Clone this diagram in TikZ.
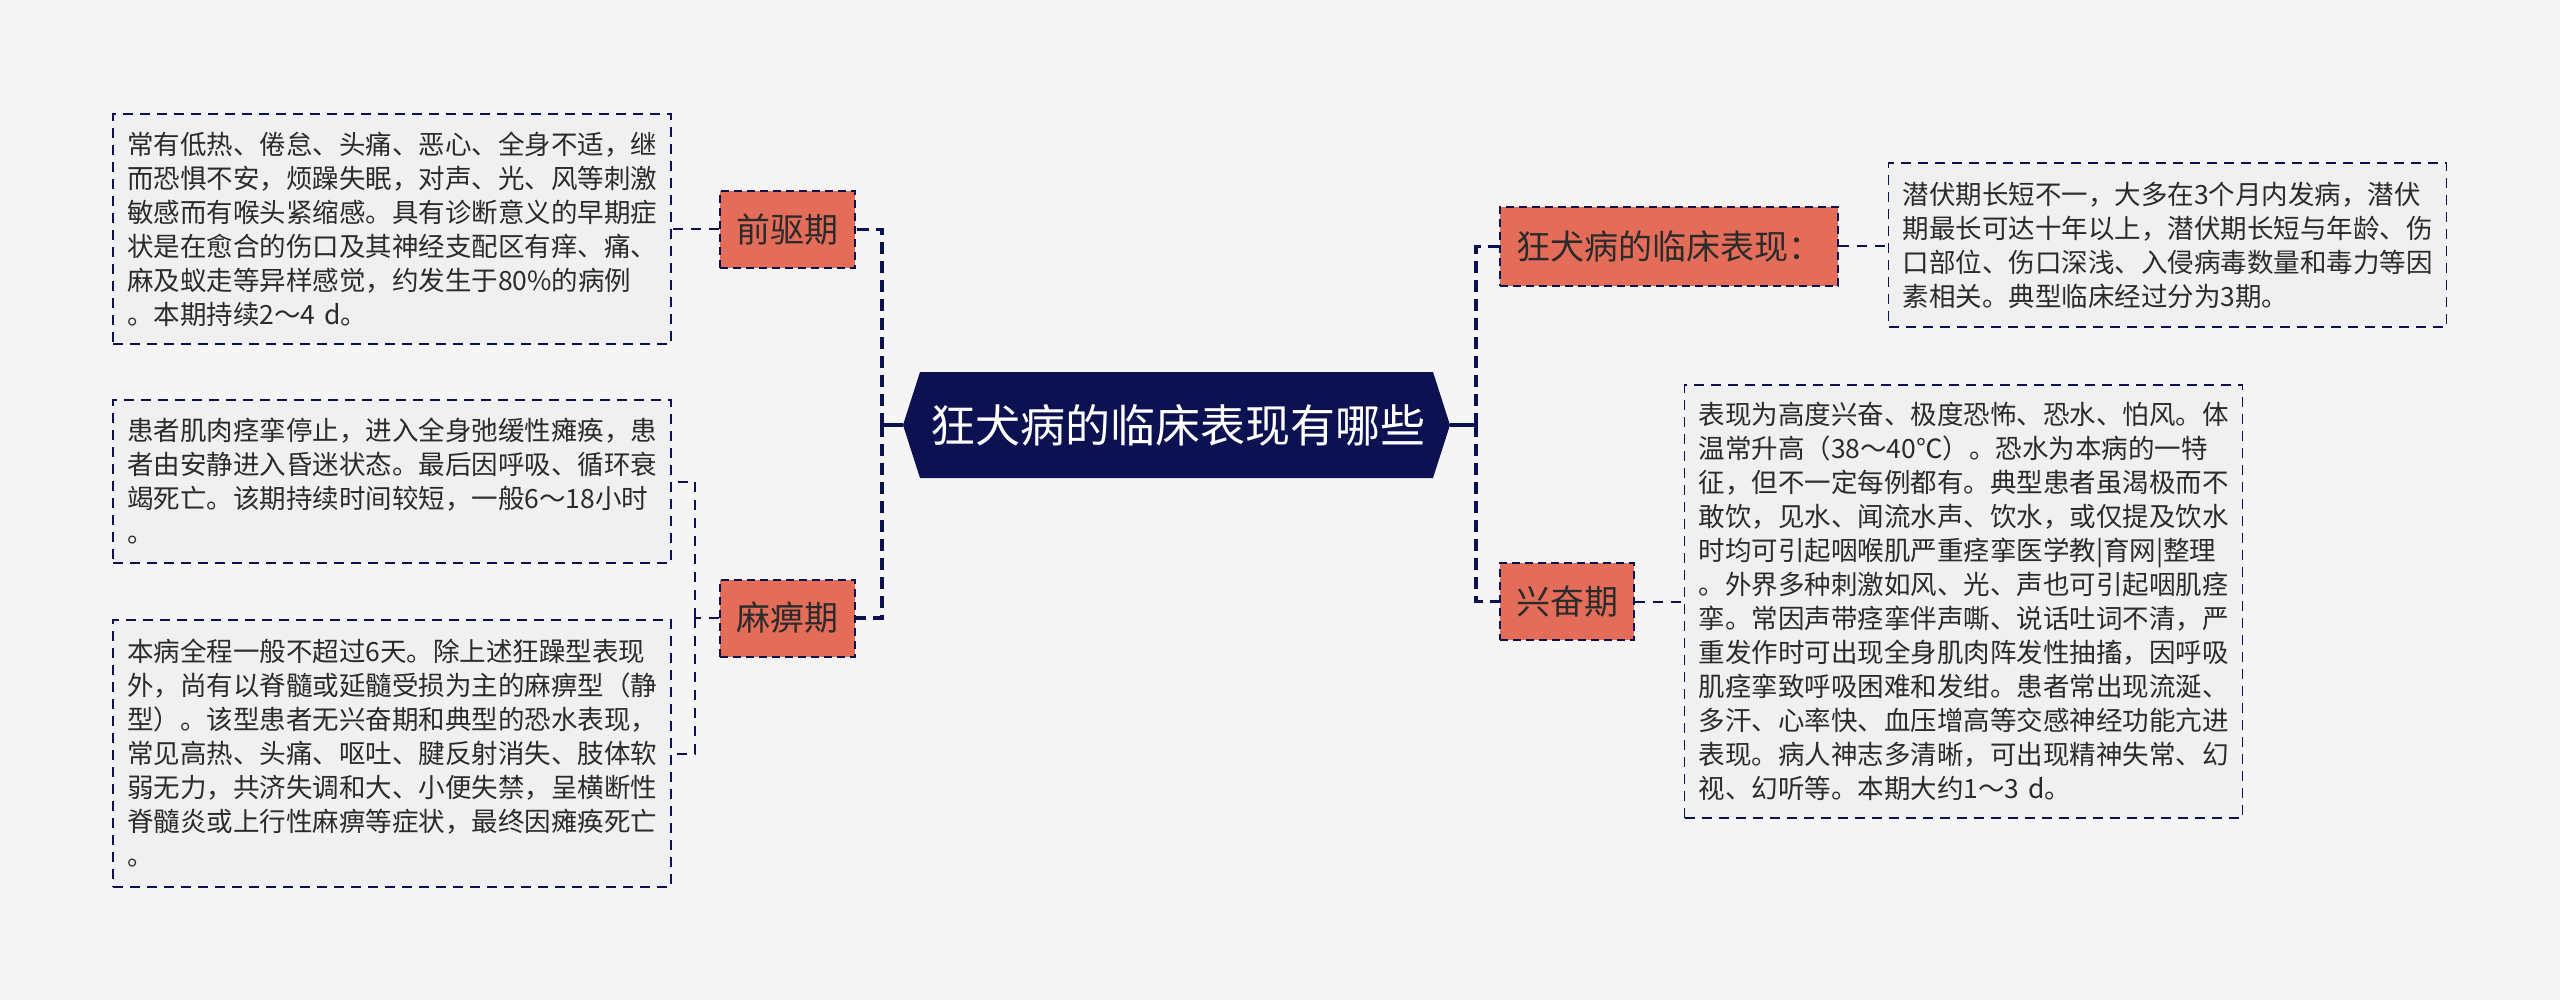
\documentclass[tikz,border=0pt]{standalone}
\usepackage{fontspec}
\setmainfont{Noto Sans CJK SC}
\definecolor{bg}{HTML}{F5F5F5}
\definecolor{navy}{HTML}{0C1152}
\definecolor{salmon}{HTML}{E46D5A}
\definecolor{boxfill}{HTML}{F0F0F0}
\definecolor{ink}{HTML}{2B2B2B}
\tikzset{
  branch/.style={draw=navy, dashed, dash pattern=on 4pt off 2.5pt, line width=1pt, fill=salmon, text=ink,
    font=\fontsize{17}{20}\selectfont, inner sep=0pt, minimum height=38.5pt},
  leafbox/.style={draw=navy, dash pattern=on 5pt off 3.5pt, line width=0.9pt, fill=boxfill, text=ink,
    text width=265pt, inner xsep=7pt, inner ysep=4pt, align=left, font=\fontsize{13.25}{17}\selectfont},
  spine/.style={draw=navy, line width=1.6pt},
  spinedash/.style={spine, dash pattern=on 6pt off 3.5pt},
  leafline/.style={draw=navy, line width=1pt, dash pattern=on 5pt off 4pt},
}
\begin{document}
\begin{tikzpicture}[x=0.5pt,y=-0.5pt]
\fill[bg] (0,0) rectangle (2560,1000);
% central hexagon
\coordinate (rootL) at (903,425);
\coordinate (rootR) at (1450,425);
\fill[navy] (rootL) -- (920,372) -- (1433,372) -- (rootR) -- (1433,478) -- (920,478) -- cycle;
\node[text=white, font=\fontsize{22.5}{26}\selectfont, inner sep=0pt] (root) at (1178,425) {狂犬病的临床表现有哪些};
% branch nodes
\node[branch, minimum width=67.5pt] (qian) at (787.5,229.5) {前驱期};
\node[branch, minimum width=67.5pt] (mabi) at (787.5,618) {麻痹期};
\node[branch, minimum width=169pt, minimum height=39.5pt] (biaoxian) at (1669,246.5) {狂犬病的临床表现：};
\node[branch, minimum width=67pt] (xingfen) at (1567,601.5) {兴奋期};
% leaf boxes
\node[leafbox, minimum height=115pt] (L1) at (392,229) {常有低热、倦怠、头痛、恶心、全身不适，继\\而恐惧不安，烦躁失眠，对声、光、风等刺激\\敏感而有喉头紧缩感。具有诊断意义的早期症\\状是在愈合的伤口及其神经支配区有痒、痛、\\麻及蚁走等异样感觉，约发生于80\%的病例\\。本期持续2～4 d。};
\node[leafbox, minimum height=81.5pt] (L2) at (392,481.5) {患者肌肉痉挛停止，进入全身弛缓性瘫痪，患\\者由安静进入昏迷状态。最后因呼吸、循环衰\\竭死亡。该期持续时间较短，一般6～18小时\\。};
\node[leafbox, minimum height=133.5pt] (L3) at (392,753.5) {本病全程一般不超过6天。除上述狂躁型表现\\外，尚有以脊髓或延髓受损为主的麻痹型（静\\型）。该型患者无兴奋期和典型的恐水表现，\\常见高热、头痛、呕吐、腱反射消失、肢体软\\弱无力，共济失调和大、小便失禁，呈横断性\\脊髓炎或上行性麻痹等症状，最终因瘫痪死亡\\。};
\node[leafbox, minimum height=82pt] (R1) at (2167.5,245) {潜伏期长短不一，大多在3个月内发病，潜伏\\期最长可达十年以上，潜伏期长短与年龄、伤\\口部位、伤口深浅、入侵病毒数量和毒力等因\\素相关。典型临床经过分为3期。};
\node[leafbox, minimum height=216.5pt] (R2) at (1963.5,601.5) {表现为高度兴奋、极度恐怖、恐水、怕风。体\\温常升高（38～40℃）。恐水为本病的一特\\征，但不一定每例都有。典型患者虽渴极而不\\敢饮，见水、闻流水声、饮水，或仅提及饮水\\时均可引起咽喉肌严重痉挛医学教|育网|整理\\。外界多种刺激如风、光、声也可引起咽肌痉\\挛。常因声带痉挛伴声嘶、说话吐词不清，严\\重发作时可出现全身肌肉阵发性抽搐，因呼吸\\肌痉挛致呼吸困难和发绀。患者常出现流涎、\\多汗、心率快、血压增高等交感神经功能亢进\\表现。病人神志多清晰，可出现精神失常、幻\\视、幻听等。本期大约1～3 d。};
% spines
\coordinate (jl) at (882,425);
\coordinate (jr) at (1476,425);
\draw[spine] (rootL) -- (jl);
\draw[spinedash] (jl) |- (qian.east);
\draw[spinedash] (jl) |- (mabi.east);
\draw[spine] (rootR) -- (jr);
\draw[spinedash] (jr) |- (biaoxian.west);
\draw[spinedash] (jr) |- (xingfen.west);
% leaf connectors
\draw[leafline] (qian.west) -- (qian.west -| L1.east);
\coordinate (jm) at (695,618);
\draw[leafline] (mabi.west) -- (jm);
\draw[leafline] (jm) |- (L2.east);
\draw[leafline] (jm) |- (L3.east);
\draw[leafline] (biaoxian.east) -- (biaoxian.east -| R1.west);
\draw[leafline] (xingfen.east) -- (xingfen.east -| R2.west);
\end{tikzpicture}
\end{document}
